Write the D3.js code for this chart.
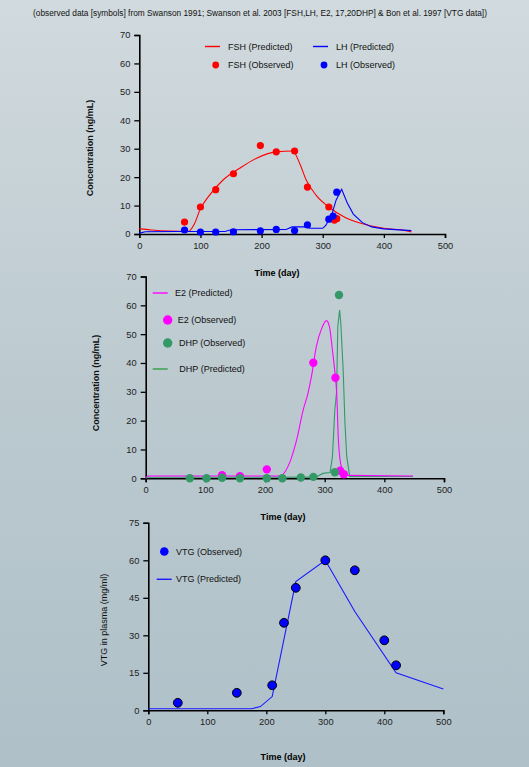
<!DOCTYPE html>
<html>
<head>
<meta charset="utf-8">
<script src="https://cdn.jsdelivr.net/npm/d3@7"></script>
<style>
  html, body { margin: 0; padding: 0; }
  body { width: 529px; height: 767px; overflow: hidden; font-family: "Liberation Sans", Arial, sans-serif; }
</style>
</head>
<body>
<div id="chart"></div>
<script>
// Panel 1: FSH / LH
const fshObsDay = [74, 100, 125, 154, 198, 224, 254, 275, 310, 319, 323];
const fshObsVal = [4.2, 9.5, 15.6, 21.2, 31.1, 28.9, 29.2, 16.5, 9.5, 4.9, 5.4];
const lhObsDay = [74, 100, 125, 154, 198, 224, 254, 275, 310, 317, 323];
const lhObsVal = [1.4, 0.7, 0.7, 0.8, 1.1, 1.6, 1.2, 3.2, 5.2, 6.3, 14.7];
const fshPredDay = [0, 20, 50, 80, 90, 99, 115, 137, 164, 191, 224, 251, 262, 273, 289, 310, 336, 368, 400, 436, 445];
const fshPredVal = [1.9, 1.4, 1.0, 0.9, 3.5, 8.4, 13.7, 19, 23.1, 26.6, 28.9, 29.2, 25, 19, 13.7, 9.5, 5.9, 3.4, 2.0, 1.2, 0.7];
const lhPredDay = [0, 10, 60, 140, 150, 240, 250, 270, 280, 300, 305, 315, 322, 331, 340, 350, 365, 380, 400, 445];
const lhPredVal = [0.3, 0.8, 0.9, 0.9, 1.5, 1.6, 2.5, 2.5, 2.0, 2.0, 3.0, 7, 12, 15.7, 11, 7, 4, 2.5, 1.8, 1.2];

// Panel 2: E2 / DHP
const e2ObsDay = [128, 158, 203, 281, 318, 326, 332];
const e2ObsVal = [1.1, 0.7, 3.1, 40.1, 34.9, 2.6, 1.4];
const dhpObsDay = [74, 102, 128, 158, 203, 229, 260, 281, 317, 324];
const dhpObsVal = [0, 0, 0.2, 0, 0, 0, 0.3, 0.5, 2.1, 63.6];
const e2PredDay = [0, 3, 221, 227, 242, 253, 264, 272, 278, 286, 295, 303, 308, 313, 318, 320, 323, 328, 337, 448];
const e2PredVal = [0, 0.8, 0.8, 1.0, 5.8, 13.3, 23.7, 29.5, 35.5, 45.7, 52, 54.7, 52.6, 44.5, 34.9, 30, 13.3, 4, 1, 0.8];
const dhpPredDay = [0, 3, 285, 297, 309, 313, 317, 320, 322, 325, 327, 331, 334, 337, 342, 448];
const dhpPredVal = [0, 0.35, 0.4, 1.7, 2.0, 7.5, 23.7, 30, 52.6, 58.4, 53.8, 37.6, 19, 7.5, 0.6, 0.6];

// Panel 3: VTG
const vtgObsDay = [50, 150, 210, 230, 250, 300, 350, 400, 420];
const vtgObsVal = [3, 7, 10, 35, 49, 60, 56, 28, 18];
const vtgPredDay = [0, 175, 190, 210, 250, 300, 350, 420, 500];
const vtgPredVal = [0.6, 0.6, 1.5, 5.5, 51.5, 60, 39.5, 15, 8.5];

const xTicks = [0, 100, 200, 300, 400, 500];
const W = 529, H = 767;

const svg = d3.select("#chart").append("svg")
  .attr("width", W).attr("height", H);

// background like the slide
const defs = svg.append("defs");
const grad = defs.append("linearGradient").attr("id", "bg")
  .attr("x1", 0).attr("y1", 0).attr("x2", 0).attr("y2", 1);
grad.append("stop").attr("offset", "0%").attr("stop-color", "#d1dade");
grad.append("stop").attr("offset", "50%").attr("stop-color", "#bccad0");
grad.append("stop").attr("offset", "100%").attr("stop-color", "#afc0c8");
svg.append("rect").attr("width", W).attr("height", H).attr("fill", "url(#bg)");

svg.append("text")
  .attr("x", 260).attr("y", 16)
  .attr("text-anchor", "middle")
  .style("font-size", "8.3px")
  .attr("fill", "#111")
  .text("(observed data [symbols] from Swanson 1991; Swanson et al. 2003 [FSH,LH, E2, 17,20DHP] & Bon et al. 1997 [VTG data])");

const zip = (a, b) => a.map((d, i) => [d, b[i]]);

function panel(p) {
  const x = d3.scaleLinear().domain([0, 500]).range([p.x0, p.x1]);
  const y = d3.scaleLinear().domain([0, p.yMax]).range([p.y0, p.y1]);
  const g = svg.append("g");

  const xAxis = g.append("g")
    .attr("transform", `translate(0,${p.y0})`)
    .call(d3.axisBottom(x).tickValues(xTicks).tickSize(4).tickPadding(4));
  const yAxis = g.append("g")
    .attr("transform", `translate(${p.x0},0)`)
    .call(d3.axisLeft(y).tickValues(p.yTicks).tickSize(5).tickPadding(4));
  [xAxis, yAxis].forEach(a => {
    a.select(".domain").attr("stroke", "#000").attr("stroke-width", 1.6);
    a.selectAll(".tick line").attr("stroke", "#000").attr("stroke-width", 1.3);
    a.selectAll(".tick text").attr("fill", "#222")
      .style("font-size", "9.3px").style("font-family", "Liberation Sans, Arial, sans-serif");
  });

  g.append("text")
    .attr("x", p.xLabelX).attr("y", p.xLabelY)
    .attr("text-anchor", "middle")
    .style("font-size", "9px").style("font-weight", "bold")
    .text("Time (day)");

  g.append("text")
    .attr("transform", `translate(${p.yLabelX},${p.yLabelY}) rotate(-90)`)
    .attr("text-anchor", "middle")
    .style("font-size", "9px").style("font-weight", p.yLabelBold ? "bold" : "normal")
    .attr("fill", "#111")
    .text(p.yLabel);

  const line = d3.line().x(d => x(d[0])).y(d => y(d[1]));
  p.lines.forEach(l => {
    g.append("path").datum(zip(l.day, l.val))
      .attr("d", line.curve(l.curve || d3.curveLinear))
      .attr("fill", "none").attr("stroke", l.color).attr("stroke-width", 1.1);
  });
  p.dots.forEach(s => {
    g.append("g").selectAll("circle").data(zip(s.day, s.val)).join("circle")
      .attr("cx", d => x(d[0])).attr("cy", d => y(d[1]))
      .attr("r", s.r).attr("fill", s.color)
      .attr("stroke", s.stroke || "none").attr("stroke-width", 1);
  });

  // legend
  p.legend.forEach(e => {
    if (e.type === "line") {
      g.append("line").attr("x1", e.x).attr("x2", e.x + 15)
        .attr("y1", e.y).attr("y2", e.y)
        .attr("stroke", e.color).attr("stroke-width", 1.4);
    } else {
      g.append("circle").attr("cx", e.x).attr("cy", e.y).attr("r", e.r)
        .attr("fill", e.color).attr("stroke", e.stroke || "none").attr("stroke-width", 1);
    }
    g.append("text").attr("x", e.tx).attr("y", e.y + 3)
      .style("font-size", "9px").attr("fill", "#111").text(e.label);
  });
}

panel({
  x0: 139.3, x1: 445, y0: 234, y1: 35, yMax: 70,
  yTicks: [0, 10, 20, 30, 40, 50, 60, 70],
  xLabelX: 277, xLabelY: 276,
  yLabel: "Concentration (ng/mL)", yLabelX: 93, yLabelY: 148, yLabelBold: true,
  lines: [
    { day: fshPredDay, val: fshPredVal, color: "#ff0000", curve: d3.curveMonotoneX },
    { day: lhPredDay, val: lhPredVal, color: "#0000ff" }
  ],
  dots: [
    { day: fshObsDay, val: fshObsVal, color: "#ff0000", r: 3.6 },
    { day: lhObsDay, val: lhObsVal, color: "#0000ff", r: 3.6 }
  ],
  legend: [
    { type: "line", x: 205, y: 46.5, color: "#ff0000", tx: 228, label: "FSH (Predicted)" },
    { type: "line", x: 313, y: 46.5, color: "#0000ff", tx: 336, label: "LH (Predicted)" },
    { type: "dot", x: 215.7, y: 65, r: 3.4, color: "#ff0000", tx: 228, label: "FSH (Observed)" },
    { type: "dot", x: 324, y: 65, r: 3.4, color: "#0000ff", tx: 336, label: "LH (Observed)" }
  ]
});

panel({
  x0: 145.7, x1: 444, y0: 478.3, y1: 276.5, yMax: 70,
  yTicks: [0, 10, 20, 30, 40, 50, 60, 70],
  xLabelX: 283, xLabelY: 520,
  yLabel: "Concentration (ng/mL)", yLabelX: 99, yLabelY: 383, yLabelBold: true,
  lines: [
    { day: dhpPredDay, val: dhpPredVal, color: "#339966" },
    { day: e2PredDay, val: e2PredVal, color: "#ff00ff", curve: d3.curveMonotoneX }
  ],
  dots: [
    { day: e2ObsDay, val: e2ObsVal, color: "#ff00ff", r: 4.2 },
    { day: dhpObsDay, val: dhpObsVal, color: "#339966", r: 4.2 }
  ],
  legend: [
    { type: "line", x: 152.7, y: 293, color: "#ff00ff", tx: 175, label: "E2 (Predicted)" },
    { type: "dot", x: 167.7, y: 320, r: 4.7, color: "#ff00ff", tx: 177.7, label: "E2 (Observed)" },
    { type: "dot", x: 167.7, y: 343, r: 4.7, color: "#339966", tx: 179, label: "DHP (Observed)" },
    { type: "line", x: 152.7, y: 369, color: "#2ea043", tx: 179.3, label: "DHP (Predicted)" }
  ]
});

panel({
  x0: 148.3, x1: 443.3, y0: 710.3, y1: 522.8, yMax: 75,
  yTicks: [0, 15, 30, 45, 60, 75],
  xLabelX: 283, xLabelY: 760,
  yLabel: "VTG in plasma (mg/ml)", yLabelX: 107, yLabelY: 620, yLabelBold: false,
  lines: [
    { day: vtgPredDay, val: vtgPredVal, color: "#1a1aff" }
  ],
  dots: [
    { day: vtgObsDay, val: vtgObsVal, color: "#0000ff", r: 4.4, stroke: "#000" }
  ],
  legend: [
    { type: "dot", x: 164.3, y: 551.5, r: 4.3, color: "#0000ff", tx: 176, label: "VTG (Observed)" },
    { type: "line", x: 156.7, y: 579.3, color: "#1a1aff", tx: 176, label: "VTG (Predicted)" }
  ]
});
</script>
</body>
</html>
